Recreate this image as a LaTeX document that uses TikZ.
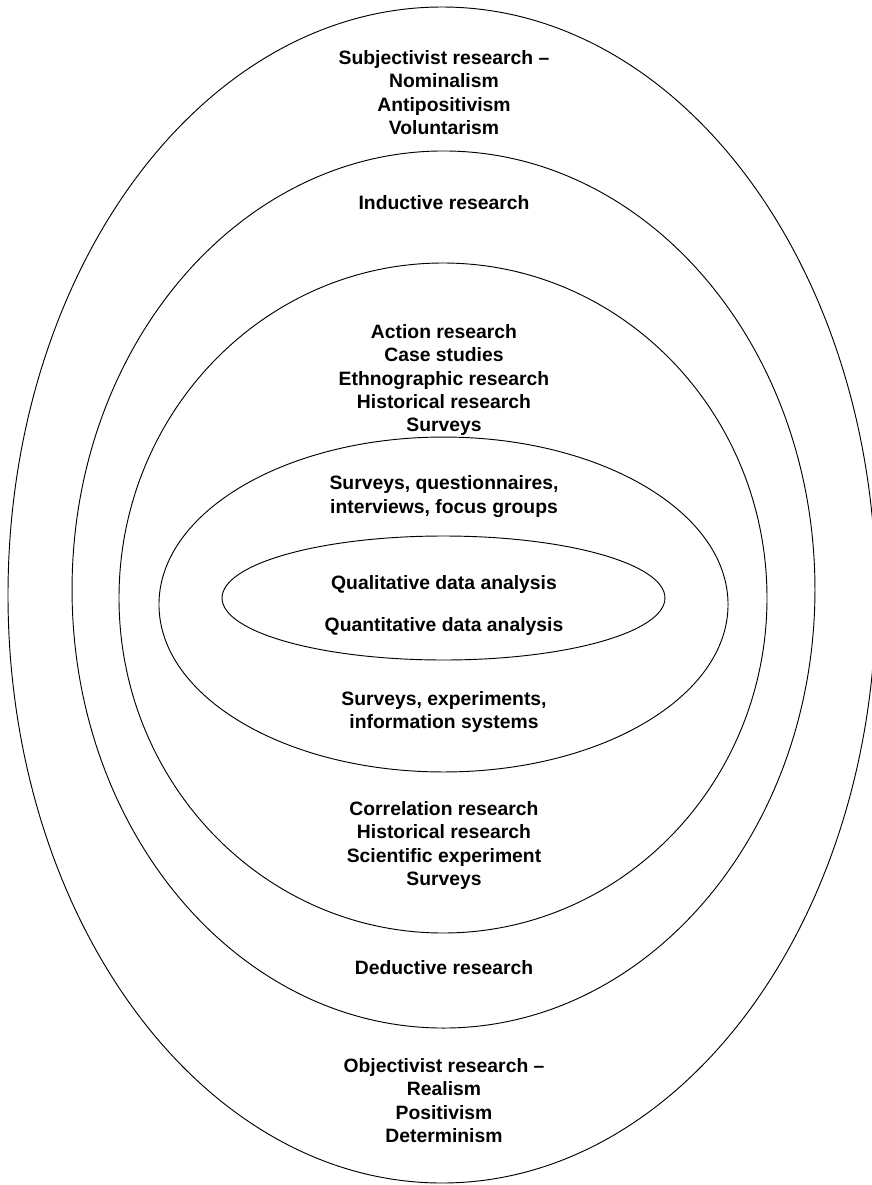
\documentclass[tikz,border=0pt]{standalone}
\usepackage{fontspec}
\setmainfont{Liberation Sans}
\begin{document}
\begin{tikzpicture}[x=0.75pt,y=-0.75pt,
  ring/.style={draw=black,line width=0.7pt},
  lbl/.style={font=\fontsize{14.5}{17.6}\selectfont\bfseries,align=center,inner sep=0pt}]
\fill[white] (0,0) rectangle (871,1185);
\useasboundingbox (0,0) rectangle (871,1185);
% ellipses
\draw[ring] (442,595) ellipse [x radius=325.5pt, y radius=441pt];
\draw[ring] (443.5,589.5) ellipse [x radius=278.6pt, y radius=328.9pt];
\draw[ring] (443,598) ellipse [x radius=243pt, y radius=251.25pt];
\draw[ring] (443.5,604.5) ellipse [x radius=213.4pt, y radius=125.6pt];
\draw[ring] (443.5,598) ellipse [x radius=166.1pt, y radius=46.5pt];
% labels
\node[lbl] (subj) at (444,92.5) {Subjectivist research --\\Nominalism\\Antipositivism\\Voluntarism};
\node[lbl] (induct) at (444,203) {Inductive research};
\node[lbl] (action) at (444,380) {Action research\\Case studies\\Ethnographic research\\Historical research\\Surveys};
\node[lbl] (quest) at (444,496.5) {Surveys, questionnaires,\\interviews, focus groups};
\node[lbl] (qual) at (444,584) {Qualitative data analysis};
\node[lbl] (quant) at (444,626) {Quantitative data analysis};
\node[lbl] (exper) at (444,712) {Surveys, experiments,\\information systems};
\node[lbl] (correl) at (444,845.5) {Correlation research\\Historical research\\Scientific experiment\\Surveys};
\node[lbl] (deduct) at (444,968) {Deductive research};
\node[lbl] (obj) at (444,1100.5) {Objectivist research --\\Realism\\Positivism\\Determinism};
\end{tikzpicture}
\end{document}
